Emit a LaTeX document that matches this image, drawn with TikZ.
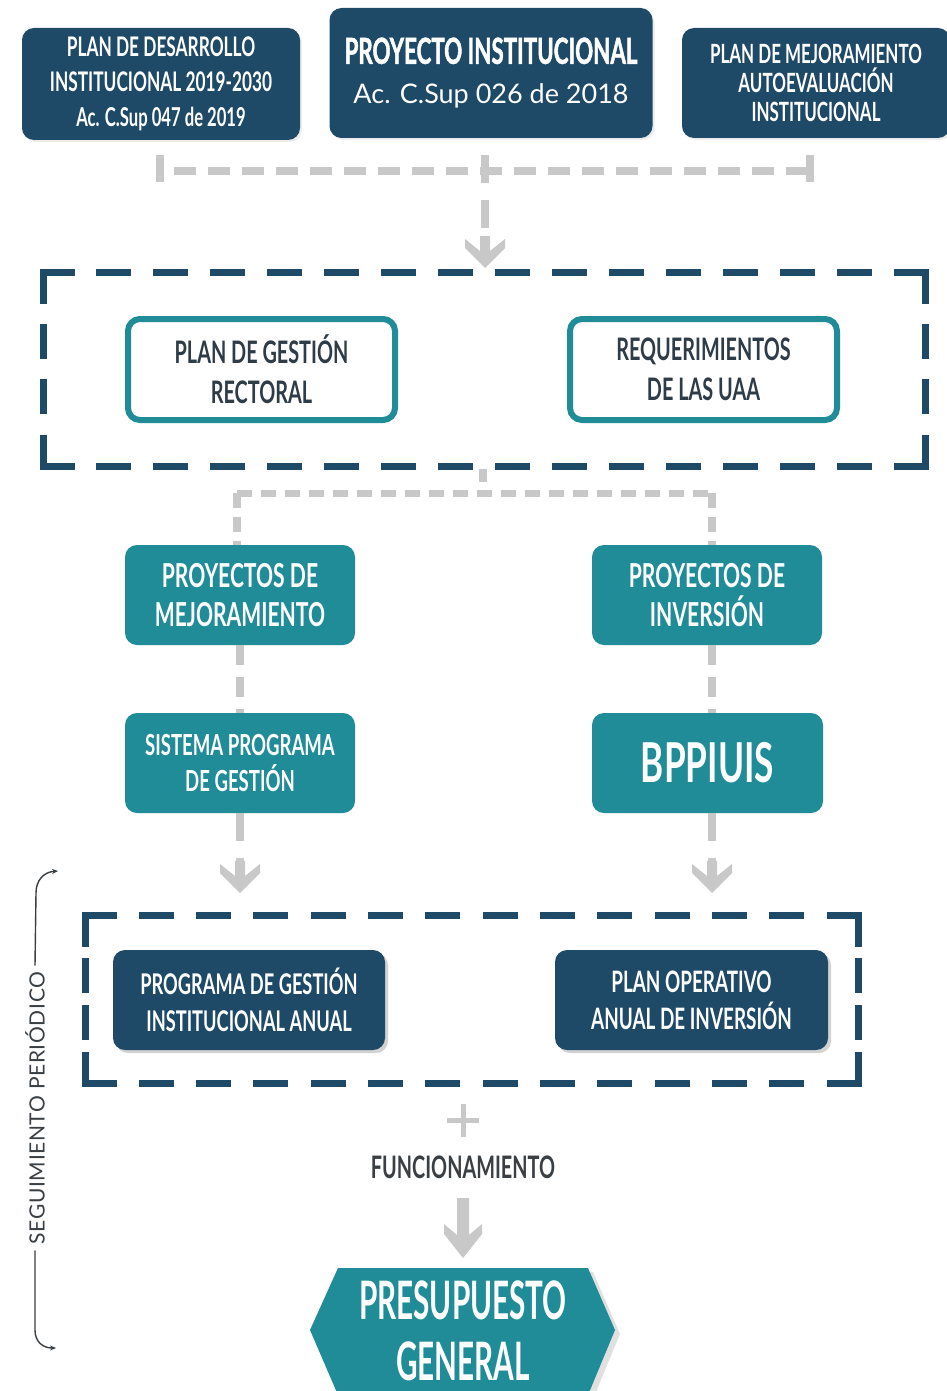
\documentclass[tikz,border=0pt]{standalone}
\usepackage{fontspec}
\setmainfont{Lato}
\newfontfamily\cond[FakeStretch=0.64]{Lato}
\newfontfamily\condh[FakeStretch=0.62,FakeBold=1.2]{Lato}
\newfontfamily\condn[FakeStretch=0.56]{Lato}
\newfontfamily\spaced[LetterSpace=3]{Lato}
\usetikzlibrary{shadows,arrows.meta}
\definecolor{navy}{HTML}{1E4A68}
\definecolor{tealc}{HTML}{1F8C97}
\definecolor{grayc}{HTML}{C8C8C8}
\definecolor{txt}{HTML}{2E3C48}
\definecolor{darkt}{HTML}{3A3F44}
\newcommand\myframeside[5]{%
  \pgfmathsetmacro\mylen{veclen(#3-#1,#4-#2)}%
  \pgfmathsetmacro\mygap{(\mylen-#5*28)/(#5-1)}%
  \draw[draw=navy, line width=7pt, line cap=rect, dash pattern=on 28pt off \mygap pt] (#1,#2) -- (#3,#4);}
\tikzset{
  box/.style={rounded corners=12pt, align=center, inner sep=0pt},
  navybox/.style={box, fill=navy, text=white},
  shadowed/.style={drop shadow={opacity=0.35, shadow xshift=3pt, shadow yshift=-3pt}},
  softshadow/.style={drop shadow={opacity=0.15, shadow xshift=2pt, shadow yshift=-2pt}},
  tealbox/.style={box, fill=tealc, text=white},
  outbox/.style={box, draw=tealc, line width=6pt, fill=white, text=txt},
  gline/.style={draw=grayc, line width=8pt},
  gdash/.style={gline, dash pattern=on 22pt off 12pt},
  gvdash/.style={gline, dash pattern=on 28pt off 17pt},
  garrow/.pic={\fill[grayc] (0,0) -- (-20,-20) -- (-20,-29) -- (-5,-17) -- (-5,-32) -- (5,-32) -- (5,-17) -- (20,-29) -- (20,-20) -- cycle;},
  gbigarrow/.pic={\fill[grayc] (0,0) -- (-19,-24) -- (-19,-34) -- (-6,-23) -- (-6,-60) -- (6,-60) -- (6,-23) -- (19,-34) -- (19,-24) -- cycle;},
  bracket/.style={draw=darkt, line width=1.4pt, -{Stealth[length=6pt,width=5pt]}}
}
\begin{document}
\begin{tikzpicture}[x=1pt,y=-1pt]
\useasboundingbox (0,0) rectangle (946,1391);
\fill[white] (0,0) rectangle (946,1391);

% top boxes
\node[navybox, softshadow, minimum width=278pt, minimum height=112pt,
  font=\cond\bfseries\fontsize{27}{35}\selectfont] (b1) at (161,84)
  {PLAN DE DESARROLLO\\INSTITUCIONAL 2019-2030\\{\fontsize{26}{30}\selectfont Ac. C.Sup 047 de 2019}};
\node[navybox, softshadow, minimum width=323pt, minimum height=130pt,
  font=\fontsize{35}{40}\selectfont] (b2) at (491,73)
  {{\condh\bfseries\fontsize{36}{40}\selectfont PROYECTO INSTITUCIONAL}\\{\fontsize{27}{30}\selectfont Ac. C.Sup 026 de 2018}};
\node[navybox, softshadow, minimum width=268pt, minimum height=110pt,
  font=\cond\bfseries\fontsize{26.5}{29}\selectfont] (b3) at (816,83)
  {PLAN DE MEJORAMIENTO\\AUTOEVALUACIÓN\\INSTITUCIONAL};

% top connector
\coordinate (t1) at (160,155);
\coordinate (t2) at (485,155);
\coordinate (t3) at (810,155);
\coordinate (h1) at (160,171);
\coordinate (h3) at (810,171);
\coordinate (a1) at (485,268);
\draw[gline] (t1) -- ++(0,27);
\draw[gline] (t3) -- ++(0,27);
\draw[gdash, dash phase=-14pt] (h1) -- (h3);
\draw[gvdash] (t2) -- ([yshift=30pt]a1);
\pic at (a1) {garrow};

% frame 1
\myframeside{43}{272}{925}{272}{16}
\myframeside{43}{466}{925}{466}{16}
\myframeside{43}{272}{43}{466}{4}
\myframeside{925}{272}{925}{466}{4}
\node[outbox, minimum width=267pt, minimum height=101pt,
  font=\cond\bfseries\fontsize{31}{40}\selectfont] (r1) at (261.5,369.5)
  {PLAN DE GESTIÓN\\RECTORAL};
\node[outbox, minimum width=267pt, minimum height=101pt,
  font=\cond\bfseries\fontsize{31}{40}\selectfont] (r2) at (703.5,369.5)
  {REQUERIMIENTOS\\DE LAS UAA};

% split connector
\coordinate (m0) at (483,469);
\coordinate (ml) at (237,493);
\coordinate (mr) at (712,493);
\draw[gline] (m0) -- ++(0,13);
\draw[gline, line width=7pt, dash pattern=on 15pt off 9pt] (ml) -- (mr);

% teal boxes
\node[tealbox, minimum width=230pt, minimum height=100pt,
  font=\cond\bfseries\fontsize{33}{39}\selectfont] (p1) at (240,595)
  {PROYECTOS DE\\MEJORAMIENTO};
\node[tealbox, minimum width=230pt, minimum height=100pt,
  font=\cond\bfseries\fontsize{33}{39}\selectfont] (p2) at (707,595)
  {PROYECTOS DE\\INVERSIÓN};
\node[tealbox, minimum width=230pt, minimum height=100pt,
  font=\cond\bfseries\fontsize{29}{36}\selectfont] (s1) at (240,763)
  {SISTEMA PROGRAMA\\DE GESTIÓN};
\node[tealbox, minimum width=231pt, minimum height=100pt,
  font=\cond\bfseries\fontsize{55}{60}\selectfont] (s2) at (707.5,763)
  {BPPIUIS};

\draw[gline, dash pattern=on 15pt off 9pt] (ml) -- (ml |- p1.north);
\draw[gline, dash pattern=on 15pt off 9pt] (mr) -- (mr |- p2.north);
\draw[gline, dash pattern=on 20pt off 12pt] (p1.south) -- (s1.north);
\draw[gline, dash pattern=on 20pt off 12pt] (p2.south -| mr) -- (s2.north -| mr);

\coordinate (a2) at (240,893);
\coordinate (a3) at (712,893);
\draw[gvdash] (s1.south) -- ([yshift=30pt]a2);
\draw[gvdash] (s2.south -| a3) -- ([yshift=30pt]a3);
\pic at (a2) {garrow};
\pic at (a3) {garrow};

% frame 2
\myframeside{85}{915}{858}{915}{14}
\myframeside{85}{1083}{858}{1083}{14}
\myframeside{85}{915}{85}{1083}{4}
\myframeside{858}{915}{858}{1083}{4}
\node[navybox, shadowed, minimum width=272pt, minimum height=100pt,
  font=\cond\bfseries\fontsize{28.5}{37}\selectfont] (n1) at (249,1000)
  {PROGRAMA DE GESTIÓN\\INSTITUCIONAL ANUAL};
\node[navybox, shadowed, minimum width=273pt, minimum height=100pt,
  font=\cond\bfseries\fontsize{29.5}{37}\selectfont] (n2) at (691.5,1000)
  {PLAN OPERATIVO\\ANUAL DE INVERSIÓN};

% plus and funcionamiento
\draw[grayc, line width=5pt] (463,1104) -- (463,1137) (447,1120) -- (479,1120);
\node[text=darkt, font=\cond\bfseries\fontsize{31}{34}\selectfont] (fun) at (463,1167) {FUNCIONAMIENTO};
\coordinate (a4) at (463,1258);
\pic at (a4) {gbigarrow};

% presupuesto general
\fill[black, opacity=0.12] (343,1272) -- (593,1272) -- (620,1334) -- (593,1399) -- (343,1399) -- (315,1334) -- cycle;
\fill[tealc] (338,1268) -- (588,1268) -- (615,1330) -- (588,1395) -- (338,1395) -- (310,1330) -- cycle;
\node[text=white, align=center, font=\condn\bfseries\fontsize{53}{61}\selectfont] (pg) at (463,1331)
  {PRESUPUESTO\\GENERAL};

% seguimiento periodico
\node[rotate=90, text=darkt, inner sep=0pt, font=\spaced\fontsize{21}{24}\selectfont] (seg) at (35,1108)
  {SEGUIMIENTO PERIÓDICO};
\coordinate (brt) at (58,871);
\coordinate (brb) at (56,1348);
\draw[bracket] ([yshift=6pt]seg.east) -- (36,893) .. controls (36,880) and (44,872) .. (brt);
\draw[bracket] ([yshift=-6pt]seg.west) -- (35,1330) .. controls (35,1342) and (43,1348) .. (brb);
\end{tikzpicture}
\end{document}
